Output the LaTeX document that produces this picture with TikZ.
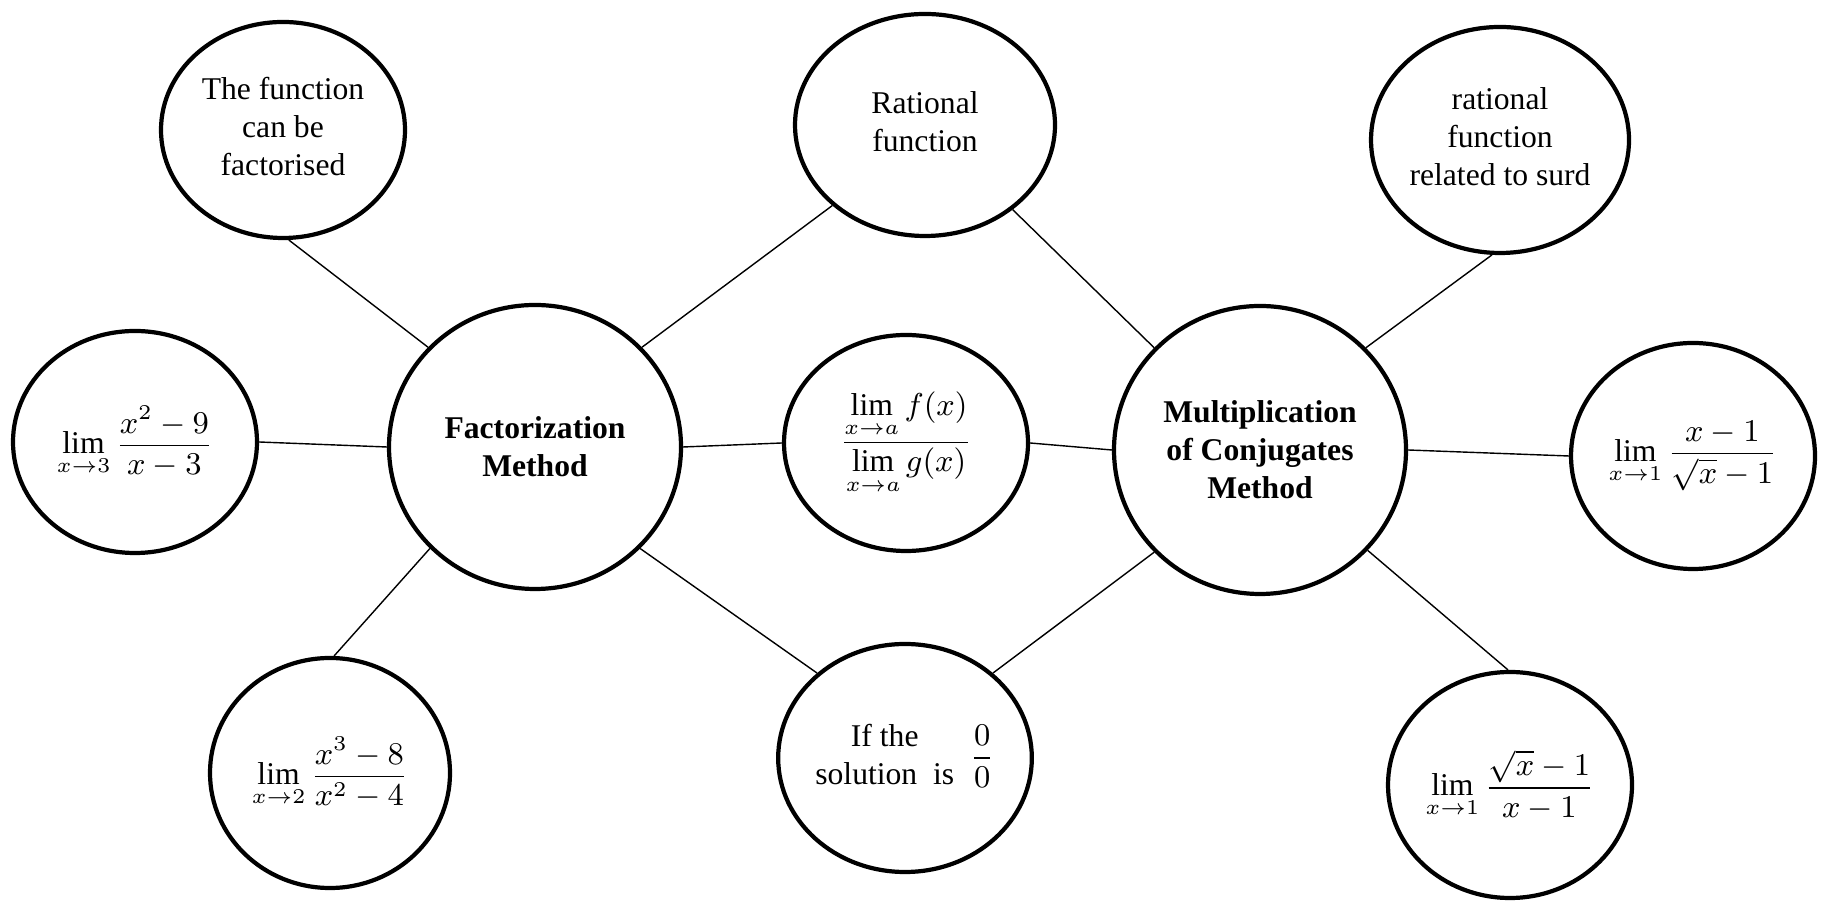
\documentclass[tikz,border=0pt]{standalone}
\usepackage{amsmath}
\usepackage{fontspec}
\setmainfont{Liberation Serif}
\usepackage{tikz}
\usetikzlibrary{shapes.geometric}

\tikzset{
  bubble/.style={ellipse,draw,line width=1.2pt,inner sep=0pt,align=center,
    minimum width=2.44cm,minimum height=2.22cm,font=\fontsize{9}{10.8}\selectfont},
  hub/.style={bubble,minimum width=2.92cm,minimum height=2.84cm,font=\fontsize{9}{10.8}\selectfont\bfseries},
  link/.style={line width=0.4pt}
}

\begin{document}
\begin{tikzpicture}[x=1cm,y=1cm]
  \useasboundingbox (0,0) rectangle (18.22,9.04);

  % the two methods
  \node[hub] (fm) at (5.35,4.57) {Factorization\\Method};
  \node[hub,minimum height=2.88cm] (mc) at (12.60,4.54) {Multiplication\\of Conjugates\\Method};

  % top row
  \node[bubble,minimum height=2.16cm] (tf) at (2.83,7.74) {\raisebox{0.05cm}{\begin{tabular}{@{}c@{}}The function\\can be\\factorised\end{tabular}}};
  \node[bubble,minimum width=2.6cm] (rf) at (9.25,7.79) {\raisebox{0.05cm}{\begin{tabular}{@{}c@{}}Rational\\function\end{tabular}}};
  \node[bubble,minimum width=2.58cm,minimum height=2.26cm] (rs) at (15.00,7.64) {\raisebox{0.15cm}{\begin{tabular}{@{}c@{}}rational\\function\\related to surd\end{tabular}}};

  % middle row
  \node[bubble] (fl) at (1.35,4.62) {$\displaystyle\lim_{x\to3}\frac{x^{2}-9}{x-3}$};
  \node[bubble,minimum height=2.16cm] (fc) at (9.06,4.61) {$\dfrac{\lim\limits_{x\to a}f(x)}{\lim\limits_{x\to a}g(x)}$};
  \node[bubble,minimum height=2.26cm] (rl) at (16.93,4.48) {$\displaystyle\lim_{x\to1}\frac{x-1}{\sqrt{x}-1}$};

  % bottom row
  \node[bubble,minimum width=2.40cm,minimum height=2.30cm] (bl) at (3.30,1.31) {$\displaystyle\lim_{x\to2}\frac{x^{3}-8}{x^{2}-4}$};
  \node[bubble,minimum height=2.28cm] (bm) at (9.05,1.46) {\begin{tabular}{@{}c@{}}If the\\solution\ \ is\end{tabular}\ \ $\dfrac{0}{0}$};
  \node[bubble,minimum height=2.26cm] (br) at (15.10,1.19) {$\displaystyle\lim_{x\to1}\frac{\sqrt{x}-1}{x-1}$};

  % connectors
  \foreach \a/\b in {tf.-87/fm.137, fl.east/fm.west, bl.88/fm.-136,
                     fm.43/rf.-139, fm.east/fc.west, fm.-44/bm.136,
                     rf.-44/mc.136, fc.east/mc.west, bm.44/mc.-136,
                     mc.44/rs.-94, mc.east/rl.west, mc.-43/br.91}
    \draw[link] (\a) -- (\b);
\end{tikzpicture}
\end{document}
